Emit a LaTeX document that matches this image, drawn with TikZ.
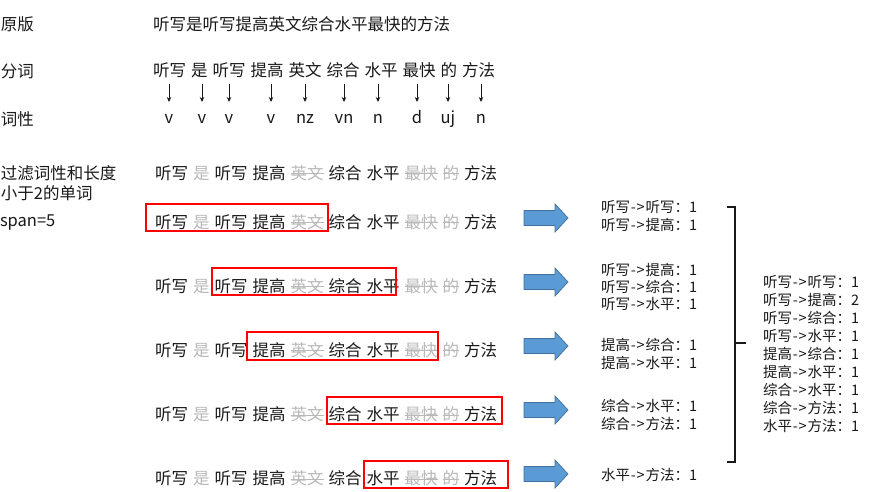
\documentclass[tikz,border=0pt]{standalone}
\usepackage{fontspec}
\setmainfont{Noto Sans CJK SC}
\usetikzlibrary{arrows.meta,calc}
\definecolor{txt}{RGB}{25,25,25}
\definecolor{gtxt}{RGB}{185,185,185}
\definecolor{boxred}{RGB}{255,0,0}
\definecolor{bfill}{RGB}{91,155,213}
\definecolor{bdraw}{RGB}{65,113,156}
\newcommand\ar{\kern1pt-\kern0.5pt>\kern1pt}
\newcommand\frow[5]{%
 \node[wd,anchor=west] (#1-1) at (#2,#3) {听写};
 \node[wd,#4,anchor=west] (#1-2) at ([xshift=5pt]#1-1.east) {是};
 \node[wd,anchor=west] (#1-3) at ([xshift=5pt]#1-2.east) {听写};
 \node[wd,anchor=west] (#1-4) at ([xshift=5pt]#1-3.east) {提高};
 \node[wd,#4,anchor=west] (#1-5) at ([xshift=5pt]#1-4.east) {英文};
 \node[wd,anchor=west] (#1-6) at ([xshift=5pt]#1-5.east) {综合};
 \node[wd,anchor=west] (#1-7) at ([xshift=5pt]#1-6.east) {水平};
 \node[wd,#4,anchor=west] (#1-8) at ([xshift=5pt]#1-7.east) {最快};
 \node[wd,#4,anchor=west] (#1-9) at ([xshift=5pt]#1-8.east) {的};
 \node[wd,anchor=west] (#1-10) at ([xshift=5pt]#1-9.east) {方法};
 \foreach \k in {5,8,9} \draw[#5] (#1-\k.west) -- (#1-\k.east);
}
\begin{document}
\begin{tikzpicture}[x=1pt,y=-1pt,
 every node/.style={inner sep=0pt,outer sep=0pt,text=txt},
 lbl/.style={font=\fontsize{16.5}{20}\selectfont,anchor=west,align=left},
 wd/.style={font=\fontsize{16.5}{20}\selectfont,text height=13.5pt,text depth=2pt},
 gw/.style={text=gtxt},
 strk/.style={draw=gtxt,line width=1pt},
 nostrk/.style={draw=none},
 posl/.style={font=\fontsize{16.5}{20}\selectfont,text height=11pt,text depth=3pt},
 darr/.style={-{Stealth[length=5pt,width=4.5pt]},line width=0.9pt,draw=txt},
 redbox/.style={draw=boxred,line width=1.1pt},
 barrow/.style={fill=bfill,draw=bdraw,line width=0.7pt},
 res/.style={font=\fontsize{14.5}{17.4}\selectfont,anchor=west,align=left},
 brk/.style={line width=1.1pt,draw=txt}]
\useasboundingbox[fill=white] (0,0) rectangle (873,492);

% left labels
\node[lbl] (l1) at (1,24.5) {原版};
\node[lbl] (l2) at (1,71) {分词};
\node[lbl] (l3) at (1,119.5) {词性};
\node[lbl] (l4) at (1,183.5) {过滤词性和长度\\小于2的单词};
\node[lbl] (l5) at (0,223) {span=5};

% original sentence
\node[lbl] (orig) at (153,24.5) {听写是听写提高英文综合水平最快的方法};

% segmentation
\frow{s}{153}{71}{}{nostrk}

% part of speech
\foreach \x/\t [count=\k] in {169/v,202/v,229/v,271/v,305/nz,344/vn,378/n,417/d,448/uj,481/n}
  \node[posl] (p\k) at (\x,120) {\t};
\foreach \k in {1,...,10}
  \draw[darr] ($(s-\k.south -| p\k.north)+(0,5)$) -- ($(p\k.north)+(0,-11)$);

% filtered rows
\frow{f}{155}{174}{gw}{strk}
\frow{ra}{155}{222.5}{gw}{strk}
\frow{rb}{155}{286.5}{gw}{strk}
\frow{rc}{155}{350.5}{gw}{strk}
\frow{rd}{155}{415}{gw}{strk}
\frow{re}{155}{479}{gw}{strk}

% windows
\draw[redbox] (146,204) rectangle (328,231);
\draw[redbox] (212,268) rectangle (396,295);
\draw[redbox] (247,332) rectangle (438,360);
\draw[redbox] (327,397) rectangle (502,424);
\draw[redbox] (364,461) rectangle (508,488);

% block arrows
\foreach \y in {218,282,346,410,474}
  \draw[barrow] (524,{\y-7.5}) -- (555,{\y-7.5}) -- (555,{\y-14}) -- (568,\y)
     -- (555,{\y+14}) -- (555,{\y+7.5}) -- (524,{\y+7.5}) -- cycle;

% pair counts
\node[res] (g1) at (601,216) {听写\ar 听写：1\\听写\ar 提高：1};
\node[res] (g2) at (601,287) {听写\ar 提高：1\\听写\ar 综合：1\\听写\ar 水平：1};
\node[res] (g3) at (601,354) {提高\ar 综合：1\\提高\ar 水平：1};
\node[res] (g4) at (601,415) {综合\ar 水平：1\\综合\ar 方法：1};
\node[res] (g5) at (601,475) {水平\ar 方法：1};

% bracket
\coordinate (bt) at (735,207);
\coordinate (bb) at (735,462);
\coordinate (bm) at (735,343);
\draw[brk] ([xshift=-8pt]bt) -- (bt) -- (bb) -- ([xshift=-8pt]bb);
\draw[brk] (bm) -- ([xshift=11pt]bm);

% merged
\node[res,font=\fontsize{14.5}{17.9}\selectfont] (m) at (763,354)
 {听写\ar 听写：1\\听写\ar 提高：2\\听写\ar 综合：1\\听写\ar 水平：1\\提高\ar 综合：1\\提高\ar 水平：1\\综合\ar 水平：1\\综合\ar 方法：1\\水平\ar 方法：1};
\end{tikzpicture}
\end{document}
